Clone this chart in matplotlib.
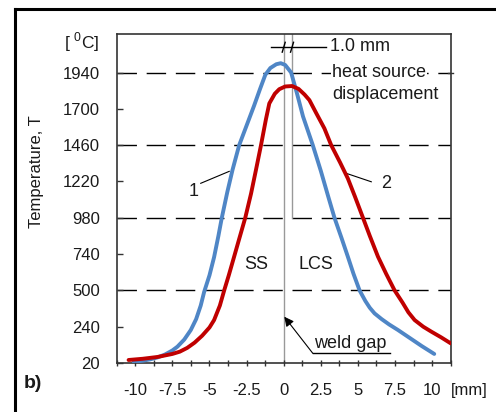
import matplotlib
matplotlib.use('Agg')
import matplotlib.pyplot as plt
from matplotlib.lines import Line2D
import matplotlib.transforms as mtransforms

plt.rcParams['font.family'] = ['Liberation Sans', 'DejaVu Sans']
plt.rcParams['mathtext.fontset'] = 'custom'
plt.rcParams['mathtext.rm'] = 'Liberation Sans'

# curve 1 (blue)
x_blue = [-10.1, -9.5, -9.0, -8.5, -8.0, -7.5, -7.16, -6.7, -6.26, -5.9, -5.59, -5.36,
          -5.0, -4.69, -4.4, -4.17, -3.8, -3.45, -3.0, -2.5, -2.0, -1.6, -1.24, -0.9,
          -0.5, -0.2, 0.1, 0.5, 0.9, 1.3, 1.96, 2.5, 3.0, 3.42, 3.9, 4.32, 4.7, 5.11,
          5.5, 5.8, 6.12, 6.6, 7.1, 7.7, 8.5, 9.3, 10.14]
t_blue = [28, 35, 44, 57, 76, 103, 128, 175, 238, 310, 400, 490,
          600, 720, 860, 980, 1150, 1296, 1460, 1590, 1720, 1830, 1925, 1970,
          1995, 2002, 1990, 1940, 1800, 1650, 1460, 1290, 1120, 980, 845, 723, 610, 500,
          430, 385, 348, 310, 275, 238, 185, 132, 80]

# curve 2 (red)
x_red = [-10.45, -9.5, -8.5, -7.5, -7.0, -6.5, -6.0, -5.5, -5.0, -4.69, -4.3, -4.01,
         -3.7, -3.34, -3.0, -2.59, -2.2, -1.87, -1.53, -1.2, -0.97, -0.6, -0.3, 0.1,
         0.56, 1.0, 1.4, 1.73, 2.2, 2.74, 3.2, 3.8, 4.32, 4.8, 5.34, 5.8, 6.35, 6.9,
         7.47, 8.0, 8.4, 8.82, 9.4, 9.95, 10.6, 11.25]
t_red = [40, 48, 60, 80, 95, 120, 155, 200, 255, 304, 400, 500,
         600, 723, 840, 980, 1140, 1296, 1460, 1630, 1736, 1800, 1830, 1848,
         1851, 1832, 1795, 1758, 1670, 1571, 1460, 1345, 1240, 1120, 980, 860, 723, 610,
         500, 420, 355, 304, 260, 227, 190, 150]

x_ticks = [-10, -7.5, -5, -2.5, 0, 2.5, 5, 7.5, 10]
x_labels = ['-10', '-7.5', '-5', '-2.5', '0', '2.5', '5', '7.5', '10']
y_ticks = [20, 260, 500, 740, 980, 1220, 1460, 1700, 1940]
y_labels = ['20', '240', '500', '740', '980', '1220', '1460', '1700', '1940']
grid_levels = [500, 980, 1460, 1940]
shift = 0.56  # heat source displacement line

txt = '#1a1a1a'
fig = plt.figure(figsize=(4.96, 4.12), dpi=100)
ax = fig.add_axes([0.2353, 0.1189, 0.6734, 0.7986])

for g in grid_levels:
    ax.axhline(g, color='black', lw=1.0, dashes=(14, 7), zorder=1)

ax.axvline(0, color='#999999', lw=1.0, zorder=1)
ax.plot([shift, shift], [980, 2195], color='#999999', lw=1.0, zorder=1)

ax.plot(x_blue, t_blue, color='#4f86c6', lw=2.8, zorder=3,
        solid_capstyle='round', solid_joinstyle='round')
ax.plot(x_red, t_red, color='#c00000', lw=2.8, zorder=4,
        solid_capstyle='round', solid_joinstyle='round')

ax.set_xlim(-11.25, 11.25)
ax.set_ylim(20, 2195)
ax.set_xticks(x_ticks)
ax.set_xticklabels(x_labels)
ax.set_xticks([-11.25 + 1.25 * i for i in range(19)], minor=True)
ax.set_yticks(y_ticks)
ax.set_yticklabels(y_labels)
ax.tick_params(axis='x', which='both', direction='inout', length=5, width=1,
               labelsize=12, labelcolor=txt, pad=12, color='#333333')
ax.tick_params(axis='y', direction='in', length=4, width=1,
               labelsize=12, labelcolor=txt, pad=12, color='#333333')
for s in ax.spines.values():
    s.set_color('#333333')
    s.set_linewidth(1.2)

# small tick on right edge at 1940
tr = mtransforms.blended_transform_factory(ax.transAxes, ax.transData)
ax.plot([0.992, 1.006], [1940, 1940], color='#333333', lw=1, transform=tr, clip_on=False)

# dimension marker at the top
ax.plot([-0.86, 2.86], [2109, 2109], color='black', lw=1)
for xv in [0, shift]:
    ax.plot([xv - 0.1, xv + 0.1], [2075, 2140], color='black', lw=1)
ax.text(3.15, 2109, '1.0 mm', fontsize=13, color=txt, ha='left', va='center')
ax.text(3.25, 1943, 'heat source', fontsize=13, color=txt, ha='left', va='center',
        bbox=dict(facecolor='white', edgecolor='none', pad=1), zorder=5)
ax.text(3.25, 1798, 'displacement', fontsize=13, color=txt, ha='left', va='center')

# curve labels
ax.plot([-5.59, -3.67], [1208, 1287], color='black', lw=0.8)
ax.text(-6.05, 1152, '1', fontsize=13, color=txt, ha='center', va='center')
ax.plot([5.9, 4.21], [1218, 1274], color='black', lw=0.8)
ax.text(6.91, 1208, '2', fontsize=13, color=txt, ha='center', va='center')

ax.text(-1.87, 668, 'SS', fontsize=13, color=txt, ha='center', va='center')
ax.text(2.18, 668, 'LCS', fontsize=13, color=txt, ha='center', va='center')

# weld gap
ax.plot([1.96, 7.14], [84, 84], color='black', lw=1)
ax.annotate('', xy=(0.04, 326), xytext=(1.96, 84),
            arrowprops=dict(arrowstyle='-|>', color='black', lw=0.8,
                            mutation_scale=14, shrinkA=0, shrinkB=0))
ax.text(4.5, 150, 'weld gap', fontsize=13, color=txt, ha='center', va='center')

# outside texts
fig.text(37 / 496, 1 - 172 / 412, 'Temperature, T', rotation=90, fontsize=12,
         color=txt, ha='center', va='center')
fig.text(99 / 496, 1 - 42 / 412, r'[ $^{0}$C]', fontsize=12.5, color=txt,
         ha='right', va='center')
fig.text(33 / 496, 1 - 383 / 412, 'b)', fontsize=14, fontweight='bold',
         color=txt, ha='center', va='center')
fig.text(451 / 496, 1 - 390 / 412, '[mm]', fontsize=12, color=txt,
         ha='left', va='center')

# outer frame (only top and left visible)
fig.add_artist(Line2D([15 / 496, 1.0], [1 - 9 / 412, 1 - 9 / 412],
                      transform=fig.transFigure, color='black', lw=2.2))
fig.add_artist(Line2D([15 / 496, 15 / 496], [0, 1 - 9 / 412],
                      transform=fig.transFigure, color='black', lw=2.2))

fig.savefig('out.png', dpi=100)
